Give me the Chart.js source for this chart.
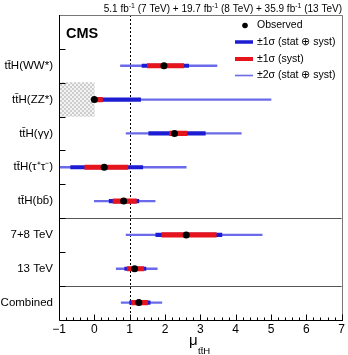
<!DOCTYPE html>
<html>
<head>
<meta charset="utf-8">
<script src="https://cdn.jsdelivr.net/npm/chart.js@4/dist/chart.umd.min.js"></script>
<style>
  html, body { margin: 0; padding: 0; background: #fff; }
  #wrap { width: 348px; height: 355px; }
</style>
</head>
<body>
<div id="wrap"><canvas id="chart" width="348" height="355"></canvas></div>
<script>
// values
const categories = ['tt\u0304H(WW*)', 'tt\u0304H(ZZ*)', 'tt\u0304H(\u03b3\u03b3)', 'tt\u0304H(\u03c4\u207a\u03c4\u207b)',
    'tt\u0304H(bb\u0304)', '7+8 TeV', '13 TeV', 'Combined'];
const observed = [1.97, 0.00, 2.27, 0.28, 0.83, 2.60, 1.14, 1.26];
const total1Lo = [1.35, 0.00, 1.54, -0.67, 0.42, 1.74, 0.86, 1.00];
const total1Hi = [2.67, 1.31, 3.14, 1.37, 1.26, 3.61, 1.46, 1.58];
const syst1Lo = [1.50, 0.00, 2.13, -0.27, 0.53, 1.91, 0.93, 1.06];
const syst1Hi = [2.53, 0.23, 2.62, 0.95, 1.19, 3.45, 1.40, 1.51];
const total2Lo = [0.74, 0.00, 0.90, -1.60, 0.00, 0.90, 0.62, 0.76];
const total2Hi = [3.47, 5.00, 4.16, 2.60, 1.72, 4.75, 1.78, 1.91];
const excludedLo = [null, -1, null, null, null, null, null, null];
const excludedHi = [null, 0, null, null, null, null, null, null];
const xTicks = [-1, 0, 1, 2, 3, 4, 5, 6, 7];
const separatorsAfter = ['tt\u0304H(bb\u0304)', '13 TeV'];

const FONT = "'Liberation Sans', Arial, Helvetica, sans-serif";
const BLUE = '#1c1cd2';
const RED = '#e6141c';
const THIN = '#6a6aea';

// top row is left empty for the legend
const labels = [''].concat(categories);
const pad = arr => [null].concat(arr);
const ranges = (lo, hi) => pad(lo.map((v, i) => (v === null ? null : [v, hi[i]])));

function hatchPattern() {
    const c = document.createElement('canvas');
    c.width = 4; c.height = 4;
    const g = c.getContext('2d');
    g.fillStyle = '#f3f3f3';
    g.fillRect(0, 0, 4, 4);
    g.fillStyle = '#cdcdcd';
    g.fillRect(0, 0, 2, 2);
    g.fillRect(2, 2, 2, 2);
    return g.createPattern(c, 'repeat');
}

// text with superscript pieces, drawn right to left from x
function drawRich(ctx, parts, xRight, y, size) {
    let widths = parts.map(p => {
        ctx.font = (p.sup ? size * 0.7 : size) + 'px ' + FONT;
        return ctx.measureText(p.t).width;
    });
    let x = xRight - widths.reduce((a, b) => a + b, 0);
    ctx.textAlign = 'left';
    ctx.textBaseline = 'alphabetic';
    parts.forEach((p, i) => {
        ctx.font = (p.sup ? size * 0.7 : size) + 'px ' + FONT;
        ctx.fillText(p.t, x, p.sup ? y - size * 0.4 : y);
        x += widths[i];
    });
}

const decorations = {
    id: 'decorations',
    beforeDatasetsDraw(chart) {
        const { ctx, chartArea: a, scales: { x } } = chart;
        const px = x.getPixelForValue(1);
        ctx.save();
        ctx.strokeStyle = '#000';
        ctx.lineWidth = 1;
        ctx.setLineDash([2, 2]);
        ctx.beginPath();
        ctx.moveTo(Math.round(px) + 0.5, a.top);
        ctx.lineTo(Math.round(px) + 0.5, a.bottom);
        ctx.stroke();
        ctx.restore();
    },
    afterDraw(chart) {
        const { ctx, chartArea: a, scales: { x, y } } = chart;
        ctx.save();

        // separators between groups
        ctx.strokeStyle = '#555';
        ctx.lineWidth = 1;
        separatorsAfter.forEach(name => {
            const i = labels.indexOf(name);
            const yy = Math.round((y.getPixelForValue(i) + y.getPixelForValue(i + 1)) / 2) + 0.5;
            ctx.beginPath();
            ctx.moveTo(a.left, yy);
            ctx.lineTo(a.right, yy);
            ctx.stroke();
        });

        // frame
        ctx.strokeStyle = '#777';
        ctx.beginPath();
        ctx.moveTo(a.left, Math.round(a.top) + 0.5);
        ctx.lineTo(Math.round(a.right) + 0.5, Math.round(a.top) + 0.5);
        ctx.lineTo(Math.round(a.right) + 0.5, a.bottom);
        ctx.stroke();
        ctx.strokeStyle = '#000';
        const L = Math.round(a.left) + 0.5, B = Math.round(a.bottom) + 0.5;
        ctx.beginPath();
        ctx.moveTo(L, Math.round(a.top));
        ctx.lineTo(L, B);
        ctx.lineTo(Math.round(a.right) + 1, B);
        ctx.stroke();

        // y ticks at band edges
        ctx.beginPath();
        for (let i = 0; i < labels.length - 1; i++) {
            const yy = Math.round((y.getPixelForValue(i) + y.getPixelForValue(i + 1)) / 2) + 0.5;
            ctx.moveTo(L, yy);
            ctx.lineTo(L + 6, yy);
        }
        // x ticks, major and minor
        for (let v = -1; v <= 7.001; v += 0.2) {
            const major = Math.abs(v - Math.round(v)) < 1e-6;
            const xx = Math.round(x.getPixelForValue(v)) + 0.5;
            ctx.moveTo(xx, B);
            ctx.lineTo(xx, B - (major ? 6 : 3));
        }
        ctx.stroke();

        // CMS label
        ctx.fillStyle = '#000';
        ctx.font = 'bold 14.5px ' + FONT;
        ctx.textAlign = 'left';
        ctx.textBaseline = 'alphabetic';
        ctx.fillText('CMS', 66, 38);

        // luminosity line
        drawRich(ctx, [
            { t: '5.1 fb' }, { t: '-1', sup: true }, { t: ' (7 TeV) + 19.7 fb' }, { t: '-1', sup: true },
            { t: ' (8 TeV) + 35.9 fb' }, { t: '-1', sup: true }, { t: ' (13 TeV)' }
        ], 342, 12, 10);

        // legend
        const ds = chart.data.datasets;
        ctx.font = '10.5px ' + FONT;
        ctx.textBaseline = 'middle';
        ctx.fillText(ds[0].label, 257, 25.5);
        ctx.beginPath();
        ctx.arc(245, 25.5, 2.8, 0, Math.PI * 2);
        ctx.fill();
        const rows = [[2, 42, 3.5], [1, 59, 4], [3, 75.5, 1.6]];
        rows.forEach(([k, yy, w]) => {
            ctx.fillStyle = ds[k].backgroundColor;
            ctx.fillRect(235, yy - w / 2, 18, w);
            ctx.fillStyle = '#000';
            ctx.fillText(ds[k].label, 257, yy);
        });

        // axis title
        ctx.textBaseline = 'alphabetic';
        ctx.font = '15px ' + FONT;
        ctx.fillText('\u03bc', 189, 345);
        ctx.font = '9.5px ' + FONT;
        ctx.fillText('tt\u0304H', 198, 354);

        ctx.restore();
    }
};

new Chart(document.getElementById('chart'), {
    type: 'bar',
    data: {
        labels: labels,
        datasets: [
            {
                type: 'line', label: 'Observed', order: 0, indexAxis: 'y',
                data: observed.map((v, i) => ({ x: v, y: categories[i] })),
                showLine: false, pointRadius: 3.5, pointHoverRadius: 3.5,
                pointBackgroundColor: '#000', pointBorderWidth: 0, borderColor: '#000', clip: false
            },
            {
                label: '\u00b11\u03c3 (syst)', order: 1, grouped: false,
                data: ranges(syst1Lo, syst1Hi), backgroundColor: RED, barThickness: 4.5, borderSkipped: false
            },
            {
                label: '\u00b11\u03c3 (stat \u2295 syst)', order: 2, grouped: false,
                data: ranges(total1Lo, total1Hi), backgroundColor: BLUE, barThickness: 3.5
            },
            {
                label: '\u00b12\u03c3 (stat \u2295 syst)', order: 3, grouped: false,
                data: ranges(total2Lo, total2Hi), backgroundColor: THIN, barThickness: 1.6
            },
            {
                label: 'excluded', order: 4, grouped: false,
                data: ranges(excludedLo, excludedHi), backgroundColor: hatchPattern(),
                barPercentage: 1, categoryPercentage: 1
            }
        ]
    },
    options: {
        indexAxis: 'y',
        responsive: false,
        animation: false,
        layout: { padding: { top: 15, right: 5, left: 0, bottom: 0 } },
        plugins: { legend: { display: false }, title: { display: false }, tooltip: { enabled: false } },
        scales: {
            x: {
                type: 'linear', min: -1, max: 7,
                afterFit: s => { s.height = 35.5; },
                afterBuildTicks: s => { s.ticks = xTicks.map(v => ({ value: v })); },
                grid: { display: false, drawTicks: false },
                border: { display: false },
                ticks: {
                    padding: 3, color: '#000', font: { family: FONT, size: 12 },
                    callback: v => (v < 0 ? '\u2212' + Math.abs(v) : String(v))
                }
            },
            y: {
                type: 'category', offset: true,
                afterFit: s => { s.width = 59; },
                grid: { display: false, drawTicks: false },
                border: { display: false },
                ticks: { padding: 6, color: '#000', autoSkip: false, font: { family: FONT, size: 11.5 } }
            }
        }
    },
    plugins: [decorations]
});
</script>
</body>
</html>
